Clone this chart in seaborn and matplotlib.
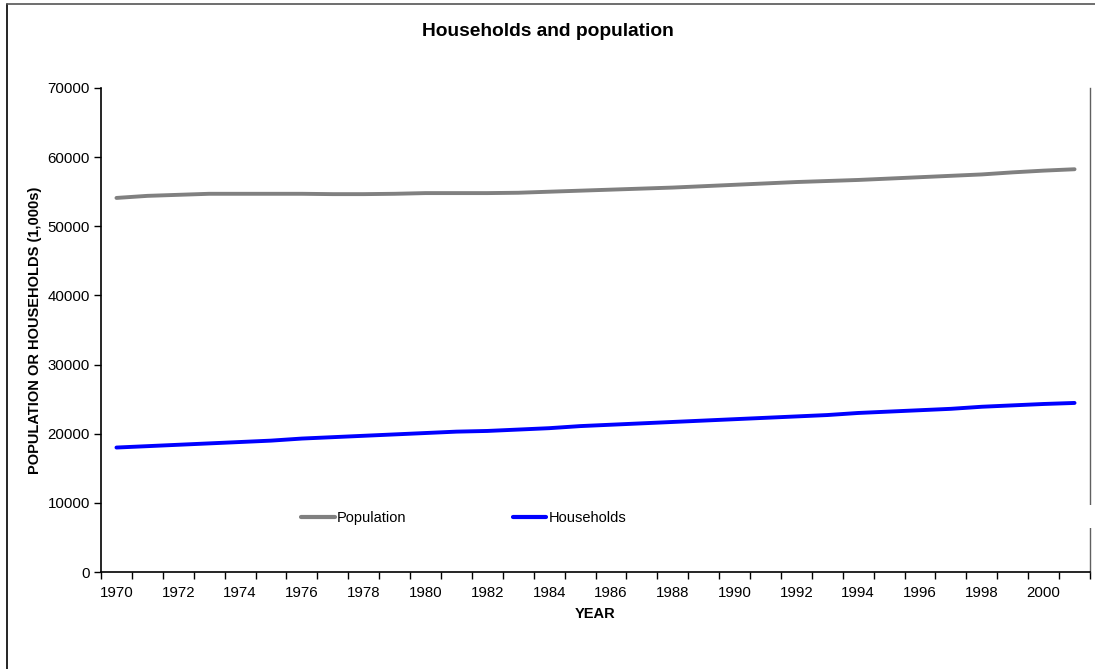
import numpy as np
import pandas as pd
import matplotlib
matplotlib.use("Agg")
import matplotlib.pyplot as plt
from matplotlib.lines import Line2D
from matplotlib.patches import Rectangle
import seaborn as sns

# data (thousands)
years = list(range(1970, 2002))
population = [54100, 54400, 54550, 54700, 54700, 54700, 54700, 54650,
              54650, 54700, 54800, 54800, 54800, 54850, 55000, 55150,
              55300, 55450, 55600, 55800, 56000, 56200, 56400, 56550,
              56700, 56900, 57100, 57300, 57500, 57800, 58050, 58250]
households = [18000, 18200, 18400, 18600, 18800, 19000, 19300, 19500,
              19700, 19900, 20100, 20300, 20400, 20600, 20800, 21100,
              21300, 21500, 21700, 21900, 22100, 22300, 22500, 22700,
              23000, 23200, 23400, 23600, 23900, 24100, 24300, 24450]
series_names = ["Population", "Households"]
series_colors = ["#808080", "#0000ff"]

df = pd.DataFrame({"year": years, "Population": population, "Households": households})
long = df.melt(id_vars="year", var_name="series", value_name="value")

sns.set_style("white")
plt.rcParams["font.family"] = ["Liberation Sans", "DejaVu Sans"]
plt.rcParams["text.color"] = "black"
plt.rcParams["axes.labelcolor"] = "black"
plt.rcParams["xtick.color"] = "black"
plt.rcParams["ytick.color"] = "black"

fig = plt.figure(figsize=(10.95, 6.69), dpi=100)
ax = fig.add_axes([101 / 1095, 1 - 572 / 669, (1090 - 101) / 1095, (572 - 88) / 669])

sns.lineplot(data=long, x="year", y="value", hue="series", hue_order=series_names,
             palette=series_colors, linewidth=2.8, ax=ax, legend=False)

ax.set_xlim(years[0] - 0.5, years[-1] + 0.5)
ax.set_ylim(0, 70000)
ax.set_yticks(np.arange(0, 70001, 10000))
ax.set_yticklabels([str(v) for v in range(0, 70001, 10000)], fontsize=10.8)

# labels at every other category centre, tick marks at category boundaries
ax.set_xticks(years[::2][:16])
ax.set_xticklabels([str(y) for y in years[::2][:16]], fontsize=10.8)
ax.set_xticks(np.arange(years[0] - 0.5, years[-1] + 1), minor=True)
ax.tick_params(axis="x", which="major", bottom=True, length=0, pad=10)
ax.tick_params(axis="x", which="minor", bottom=True, length=5, width=1, direction="out")
ax.tick_params(axis="y", which="major", left=True, length=5, width=1, direction="out", pad=3)

ax.set_xlabel("YEAR", fontsize=10.5, fontweight="bold", labelpad=5)
ax.set_ylabel("POPULATION OR HOUSEHOLDS (1,000s)", fontsize=10.5, fontweight="bold", labelpad=4)

for side in ["left", "bottom"]:
    ax.spines[side].set_color("black")
    ax.spines[side].set_linewidth(1.2)
ax.spines["right"].set_color("#606060")
ax.spines["right"].set_linewidth(1.0)
ax.spines["top"].set_visible(False)

handles = [Line2D([0], [0], color=c, lw=3) for c in series_colors]
leg = ax.legend(handles, series_names, ncol=2, loc="center left",
                bbox_to_anchor=(0.189, 0.112), frameon=False, fontsize=10.5,
                handlelength=2.3, handletextpad=0.15, columnspacing=7.3)

# white gap in the right border beside the legend band
fig.add_artist(Rectangle((1086 / 1095, 1 - 528 / 669), 8 / 1095, 23 / 669,
                         transform=fig.transFigure, facecolor="white", edgecolor="none", zorder=10))

fig.text(548 / 1095, 1 - 32 / 669, "Households and population", ha="center", va="center",
         fontsize=13.8, fontweight="bold")

# chart area border (left and top edges visible)
fig.add_artist(Line2D([7 / 1095, 7 / 1095], [0, 1 - 4 / 669], transform=fig.transFigure,
                      color="black", lw=1.2))
fig.add_artist(Line2D([7 / 1095, 1], [1 - 4 / 669, 1 - 4 / 669], transform=fig.transFigure,
                      color="#555555", lw=1.2))

fig.savefig("out.png", dpi=100)
